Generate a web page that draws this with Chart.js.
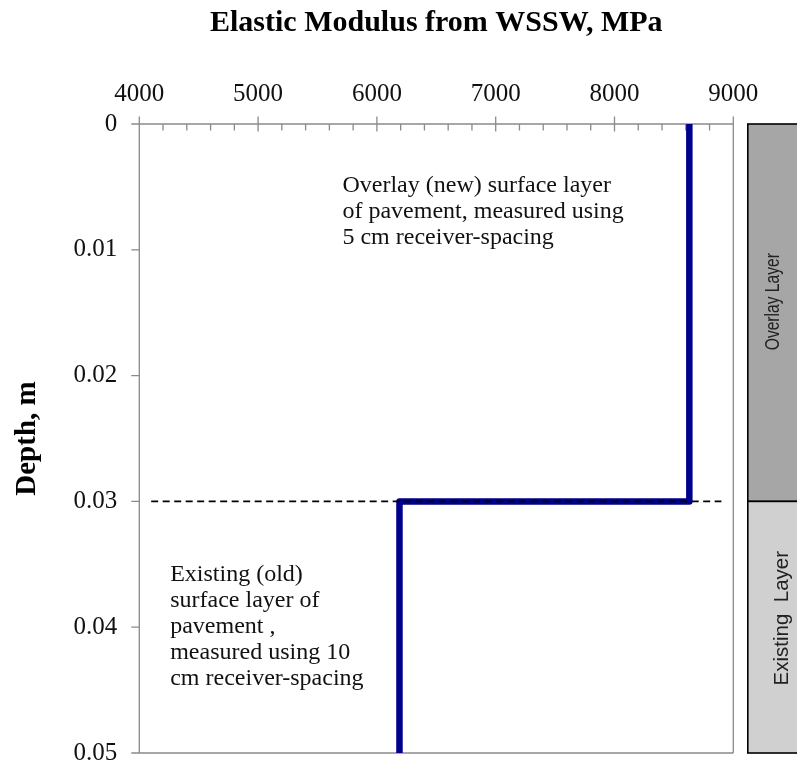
<!DOCTYPE html>
<html>
<head>
<meta charset="utf-8">
<script src="https://cdn.jsdelivr.net/npm/chart.js@4/dist/chart.umd.min.js"></script>
<style>
  html, body { margin: 0; padding: 0; background: #ffffff; }
  #wrap { width: 797px; height: 772px; }
</style>
</head>
<body>
<div id="wrap"><canvas id="c" width="797" height="772"></canvas></div>
<script>
// Modulus profile (step) with depth
const depthM = [0, 0.03, 0.03, 0.05];
const modulusMPa = [8630, 8630, 6190, 6190];

// Layer interface marker
const interfaceModulus = [4100, 8900];
const interfaceDepth = [0.03, 0.03];

// Axis ticks
const modulusTicks = [4000, 5000, 6000, 7000, 8000, 9000];
const depthTicks = [0, 0.01, 0.02, 0.03, 0.04, 0.05];

// Layer bands shown beside the plot
const layerNames = ['Overlay Layer', 'Existing  Layer'];
const layerTop = [0, 0.03];
const layerBottom = [0.03, 0.05];

// Notes inside the plot
const noteLines = [
  ['Overlay (new) surface layer', 'of pavement, measured using', '5 cm receiver-spacing'],
  ['Existing (old)', 'surface layer of', 'pavement ,', 'measured using 10', 'cm receiver-spacing']
];
const noteModulus = [5710, 4260];
const noteDepth = [0.0054, 0.0363];

const serif = '"Liberation Serif", "Times New Roman", serif';
const axisGray = '#8a8a8a';

const profile = modulusMPa.map((m, i) => ({ x: m, y: depthM[i] }));
const interfaceLine = interfaceModulus.map((m, i) => ({ x: m, y: interfaceDepth[i] }));

// Box frame with crossing major ticks and inner minor ticks
const framePlugin = {
  id: 'frame',
  beforeDatasetsDraw(chart) {
    const { ctx, chartArea: a, scales: { x, y } } = chart;
    ctx.save();
    ctx.strokeStyle = axisGray;
    ctx.lineWidth = 1.3;
    ctx.beginPath();
    // top axis and left axis
    ctx.moveTo(a.left, a.top); ctx.lineTo(a.right, a.top);
    ctx.moveTo(a.left, a.top); ctx.lineTo(a.left, a.bottom);
    // right and bottom edges
    ctx.moveTo(a.right, a.top); ctx.lineTo(a.right, a.bottom);
    ctx.moveTo(a.left, a.bottom); ctx.lineTo(a.right, a.bottom);
    // modulus ticks
    for (let v = modulusTicks[0]; v <= modulusTicks[modulusTicks.length - 1]; v += 200) {
      const px = x.getPixelForValue(v);
      const major = modulusTicks.includes(v);
      ctx.moveTo(px, major ? a.top - 7.5 : a.top);
      ctx.lineTo(px, major ? a.top + 7.5 : a.top + 6.5);
    }
    // depth ticks
    depthTicks.forEach(d => {
      const py = y.getPixelForValue(d);
      ctx.moveTo(a.left - 8, py); ctx.lineTo(a.left, py);
    });
    ctx.stroke();
    ctx.restore();
  }
};

// Notes and the layer bands to the right of the plot
const layerPlugin = {
  id: 'layers',
  afterDraw(chart) {
    const { ctx, chartArea: a, scales: { x, y } } = chart;
    ctx.save();
    // notes
    ctx.fillStyle = '#111111';
    ctx.font = '24px ' + serif;
    ctx.textAlign = 'left';
    ctx.textBaseline = 'alphabetic';
    noteLines.forEach((lines, i) => {
      const px = x.getPixelForValue(noteModulus[i]);
      const py = y.getPixelForValue(noteDepth[i]);
      lines.forEach((t, k) => ctx.fillText(t, px, py + k * 26));
    });
    // bands
    const bandLeft = a.right + 14.5;
    const bandFill = ['#a6a6a6', '#d0d0d0'];
    const labelSize = [20, 20.5];
    const labelCondense = [0.78, 1.0];
    const baseX = [31, 40];
    const shiftY = [11, 9];
    layerNames.forEach((name, i) => {
      const top = y.getPixelForValue(layerTop[i]);
      const bot = y.getPixelForValue(layerBottom[i]);
      ctx.fillStyle = bandFill[i];
      ctx.fillRect(bandLeft, top, 120, bot - top);
      ctx.strokeStyle = '#000000';
      ctx.lineWidth = 1.6;
      ctx.strokeRect(bandLeft, top, 120, bot - top);
      ctx.save();
      ctx.translate(bandLeft + baseX[i], (top + bot) / 2 - shiftY[i]);
      ctx.rotate(-Math.PI / 2);
      ctx.scale(labelCondense[i], 1);
      ctx.fillStyle = '#222222';
      ctx.font = labelSize[i] + 'px "Liberation Sans", Arial, sans-serif';
      ctx.textAlign = 'center';
      ctx.textBaseline = 'alphabetic';
      ctx.fillText(name, 0, 0);
      ctx.restore();
    });
    ctx.restore();
  }
};

new Chart(document.getElementById('c'), {
  type: 'scatter',
  data: {
    datasets: [
      {
        data: interfaceLine,
        showLine: true,
        borderColor: '#000000',
        borderWidth: 1.8,
        borderDash: [7, 4.5],
        pointRadius: 0,
        order: 0
      },
      {
        data: profile,
        showLine: true,
        borderColor: '#00008e',
        borderWidth: 6.5,
        borderJoinStyle: 'round',
        pointRadius: 0,
        order: 1
      }
    ]
  },
  options: {
    responsive: false,
    animation: false,
    devicePixelRatio: 1,
    layout: { padding: { left: 0, right: 63.7, top: 0, bottom: 19 } },
    plugins: {
      legend: { display: false },
      tooltip: { enabled: false },
      title: { display: false }
    },
    scales: {
      x: {
        type: 'linear',
        position: 'top',
        min: 4000,
        max: 9000,
        afterFit(scale) {
          scale.height = 124;
          scale.paddingLeft = 0; scale.paddingRight = 0;
        },
        afterBuildTicks(scale) { scale.ticks = modulusTicks.map(v => ({ value: v })); },
        grid: { display: false, drawTicks: false },
        border: { display: false },
        ticks: {
          padding: 15,
          color: '#111111',
          font: { family: serif, size: 25 },
          callback: v => String(v)
        },
        title: {
          display: true,
          text: 'Elastic Modulus from WSSW, MPa',
          color: '#000000',
          font: { family: serif, size: 30, weight: 'bold' },
          padding: { top: 5, bottom: 0 }
        }
      },
      y: {
        type: 'linear',
        reverse: true,
        min: 0,
        max: 0.05,
        afterFit(scale) {
          scale.width = 139.3;
          scale.paddingTop = 0; scale.paddingBottom = 0;
        },
        afterBuildTicks(scale) { scale.ticks = depthTicks.map(v => ({ value: v })); },
        grid: { display: false, drawTicks: false },
        border: { display: false },
        ticks: {
          padding: 22,
          color: '#111111',
          font: { family: serif, size: 25 },
          callback: v => String(+Number(v).toFixed(2))
        },
        title: {
          display: true,
          text: 'Depth, m',
          color: '#000000',
          font: { family: serif, size: 29, weight: 'bold' },
          padding: { top: 10, bottom: 0 }
        }
      }
    }
  },
  plugins: [framePlugin, layerPlugin]
});
</script>
</body>
</html>
